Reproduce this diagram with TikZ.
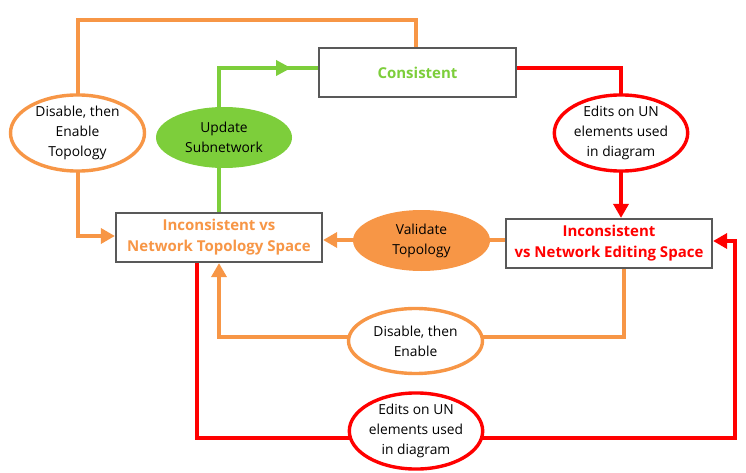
\documentclass[tikz,border=0pt]{standalone}
\usepackage{fontspec}
\setmainfont{Open Sans}
\usetikzlibrary{arrows.meta,shapes.geometric,decorations.markings}
\definecolor{cOrange}{HTML}{F79646}
\definecolor{cGreen}{HTML}{7DCE3B}
\definecolor{cRed}{HTML}{FF0000}
\definecolor{cGray}{HTML}{595959}
\begin{document}
\begin{tikzpicture}[x=1pt,y=-1pt,
  statebox/.style={draw=cGray,line width=2.2pt,fill=white,inner sep=0pt,font=\fontsize{15}{21}\selectfont\bfseries,align=center},
  oval/.style={ellipse,line width=3.4pt,inner sep=0pt,font=\fontsize{13.8}{20}\selectfont,align=center},
  conn/.style={line width=3.4pt},
  tip/.style={-{Triangle[length=14pt,width=15pt]}}
]
\useasboundingbox (0,0) rectangle (746,473);
% boxes
\node[statebox,minimum width=197pt,minimum height=49pt,text=cGreen] (cons) at (417.5,72.5) {Consistent};
\node[statebox,minimum width=206pt,minimum height=49pt,text=cOrange] (topo) at (219,237.5) {Inconsistent vs\\Network Topology Space};
\node[statebox,minimum width=206pt,minimum height=49pt,text=cRed] (edit) at (609,243.5) {Inconsistent\\vs Network Editing Space};
% coordinates
\coordinate (c1) at (416,20);
\coordinate (c2) at (78,20);
\coordinate (c3) at (78,236);
\coordinate (g1) at (219,68);
\coordinate (r1) at (621,68);
\coordinate (o1) at (624,337);
\coordinate (o2) at (219,337);
\coordinate (b1) at (197,438);
\coordinate (b2) at (735,438);
\coordinate (b3) at (735,241);
% connectors
\draw[conn,cOrange,tip] (cons.north -| c1) -- (c1) -- (c2) -- (c3) -- (c3 -| topo.west);
\draw[conn,cGreen,postaction={decorate},decoration={markings,mark=at position 216pt with {\arrow{Triangle[length=15pt,width=15pt]}}}] (topo.north -| g1) -- (g1) -- (g1 -| cons.west);
\draw[conn,cRed,tip] (r1 -| cons.east) -- (r1) -- (r1 |- edit.north);
\draw[conn,cOrange,tip] (edit.west |- 0,240) -- (topo.east |- 0,240);
\draw[conn,cOrange,tip] (edit.south -| o1) -- (o1) -- (o2) -- (o2 |- topo.south);
\draw[conn,cRed,tip] (topo.south -| b1) -- (b1) -- (b2) -- (b3) -- (b3 -| edit.east);
% ovals
\node[oval,draw=cOrange,fill=white,minimum width=134pt,minimum height=63pt] (de1) at (77.5,133) {Disable, then\\Enable\\Topology};
\node[oval,fill=cGreen,minimum width=136pt,minimum height=61pt] (upd) at (224,137.5) {Update\\Subnetwork};
\node[oval,draw=cRed,fill=white,minimum width=131pt,minimum height=65pt] (ed1) at (621,133) {Edits on UN\\elements used\\in diagram};
\node[oval,fill=cOrange,minimum width=137pt,minimum height=61pt] (val) at (421.5,240.5) {Validate\\Topology};
\node[oval,draw=cOrange,fill=white,minimum width=134pt,minimum height=65pt] (de2) at (415.5,341) {Disable, then\\Enable};
\node[oval,draw=cRed,fill=white,minimum width=131pt,minimum height=65pt] (ed2) at (416,431) {Edits on UN\\elements used\\in diagram};
\end{tikzpicture}
\end{document}
